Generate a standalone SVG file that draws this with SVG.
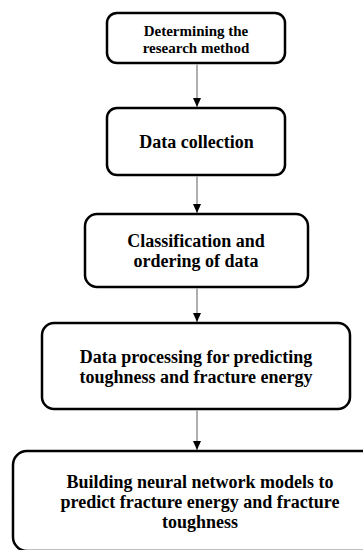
<svg xmlns="http://www.w3.org/2000/svg" width="363" height="550" viewBox="0 0 363 550">
<style>
.box{fill:#fff;stroke:#000;stroke-width:2.5}
text{font-family:"Liberation Serif","Times New Roman","DejaVu Serif",serif;font-weight:bold;fill:#000;text-anchor:middle}
.conn line{stroke:#7a7a7a;stroke-width:1.2}
</style>
<defs>
<marker id="ah" markerWidth="9" markerHeight="8" refX="9" refY="4" orient="auto" markerUnits="userSpaceOnUse" viewBox="0 0 9 8">
<path d="M0,0 L9,4 L0,8 Z" fill="#000"/>
</marker>
</defs>
<rect width="363" height="550" fill="#fff"/>
<g id="n1">
<rect class="box" x="107" y="13" width="178" height="50" rx="10"/>
<text x="196" y="36" font-size="15">Determining the</text>
<text x="196" y="53" font-size="15">research method</text>
</g>
<g id="n2">
<rect class="box" x="107" y="108" width="178" height="67" rx="10"/>
<text x="196.5" y="148" font-size="18">Data collection</text>
</g>
<g id="n3">
<rect class="box" x="85" y="214" width="223" height="73" rx="12"/>
<text x="196" y="247" font-size="18">Classification and</text>
<text x="196" y="267" font-size="18">ordering of data</text>
</g>
<g id="n4">
<rect class="box" x="42" y="323" width="308" height="86" rx="12"/>
<text x="196" y="363" font-size="18">Data processing for predicting</text>
<text x="196" y="383" font-size="18">toughness and fracture energy</text>
</g>
<g id="n5">
<rect class="box" x="13" y="451" width="376" height="100" rx="14"/>
<text x="200" y="488" font-size="18">Building neural network models to</text>
<text x="200" y="508" font-size="18">predict fracture energy and fracture</text>
<text x="200" y="528" font-size="18">toughness</text>
</g>
<g class="conn">
<line x1="197" y1="64.5" x2="197" y2="107" marker-end="url(#ah)"/>
<line x1="197" y1="176.5" x2="197" y2="213" marker-end="url(#ah)"/>
<line x1="197" y1="288.5" x2="197" y2="322" marker-end="url(#ah)"/>
<line x1="197" y1="410.5" x2="197" y2="450" marker-end="url(#ah)"/>
</g>
</svg>
